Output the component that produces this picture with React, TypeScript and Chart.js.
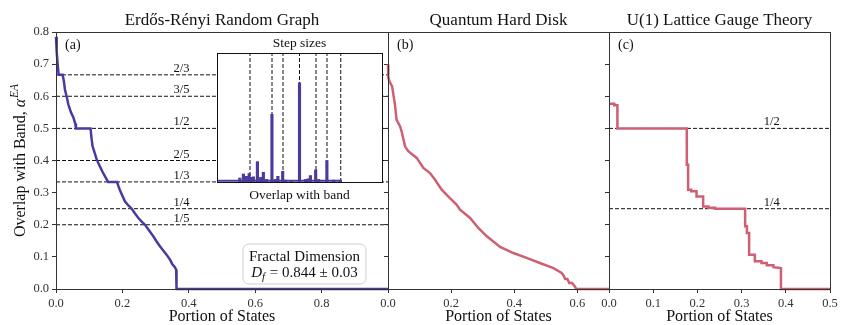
import React, { useEffect, useRef } from "react";
import { Chart, registerables } from "chart.js";
Chart.register(...registerables);

// ---------- data ----------
const titles = ["Erdős-Rényi Random Graph", "Quantum Hard Disk", "U(1) Lattice Gauge Theory"];
const tags = ["(a)", "(b)", "(c)"];
const xTitle = "Portion of States";
const yTitleMain = "Overlap with Band, ";
const yTitleSup = "EA";

// tick values
const yTicks = [0, 0.1, 0.2, 0.3, 0.4, 0.5, 0.6, 0.7, 0.8];
const aTicks = [0, 0.2, 0.4, 0.6, 0.8, 1.0];
const bTicks = [0, 0.2, 0.4, 0.6, 0.7];
const cTicks = [0, 0.1, 0.2, 0.3, 0.4, 0.5];

// panel (a): Erdős-Rényi
const aX = [0, 0.002, 0.005, 0.008, 0.020, 0.024, 0.027, 0.032, 0.037, 0.045, 0.052, 0.058, 0.060, 0.104, 0.107, 0.110, 0.116, 0.122, 0.127, 0.132, 0.140, 0.148, 0.157, 0.184, 0.188, 0.192, 0.200, 0.2075, 0.218, 0.228, 0.238, 0.248, 0.258, 0.268, 0.280, 0.293, 0.303, 0.313, 0.323, 0.333, 0.343, 0.350, 0.358, 0.362, 0.363, 1.0];
const aY = [0.785, 0.74, 0.70, 0.667, 0.667, 0.645, 0.62, 0.60, 0.575, 0.55, 0.535, 0.515, 0.5, 0.5, 0.47, 0.445, 0.425, 0.405, 0.393, 0.382, 0.365, 0.350, 0.333, 0.333, 0.32, 0.309, 0.29, 0.273, 0.26, 0.25, 0.235, 0.221, 0.21, 0.2, 0.183, 0.164, 0.148, 0.133, 0.12, 0.107, 0.092, 0.078, 0.068, 0.06, 0, 0];

// panel (b): Quantum Hard Disk
const bX = [0, 0.001, 0.004, 0.013, 0.022, 0.027, 0.038, 0.043, 0.054, 0.064, 0.091, 0.112, 0.133, 0.149, 0.170, 0.196, 0.217, 0.228, 0.260, 0.286, 0.313, 0.355, 0.397, 0.439, 0.481, 0.524, 0.550, 0.556, 0.561, 0.568, 0.574, 0.583, 0.592, 0.596, 0.70];
const bY = [0.699, 0.66, 0.647, 0.631, 0.574, 0.527, 0.507, 0.491, 0.444, 0.429, 0.408, 0.377, 0.361, 0.340, 0.309, 0.283, 0.263, 0.247, 0.221, 0.190, 0.164, 0.131, 0.112, 0.097, 0.081, 0.065, 0.050, 0.042, 0.031, 0.031, 0.019, 0.019, 0.008, 0, 0];

// panel (c): U(1) lattice gauge theory
const cX = [0, 0.012, 0.012, 0.019, 0.019, 0.176, 0.176, 0.179, 0.179, 0.186, 0.186, 0.198, 0.198, 0.213, 0.213, 0.225, 0.225, 0.240, 0.240, 0.308, 0.308, 0.312, 0.312, 0.317, 0.317, 0.330, 0.330, 0.345, 0.345, 0.357, 0.357, 0.372, 0.372, 0.389, 0.389, 0.5];
const cY = [0.577, 0.577, 0.572, 0.572, 0.5, 0.5, 0.387, 0.387, 0.309, 0.309, 0.304, 0.304, 0.288, 0.288, 0.257, 0.257, 0.253, 0.253, 0.25, 0.25, 0.195, 0.195, 0.174, 0.174, 0.107, 0.107, 0.086, 0.086, 0.081, 0.081, 0.074, 0.074, 0.068, 0.065, 0, 0];

// reference fractions
const fracA = [2 / 3, 3 / 5, 1 / 2, 2 / 5, 1 / 3, 1 / 4, 1 / 5];
const fracALabels = ["2/3", "3/5", "1/2", "2/5", "1/3", "1/4", "1/5"];
const fracC = [1 / 2, 1 / 4];
const fracCLabels = ["1/2", "1/4"];

// inset: step sizes vs overlap with band
const insetX = [0.138, 0.160, 0.178, 0.195, 0.205, 0.221, 0.245, 0.265, 0.281, 0.301, 0.333, 0.355, 0.369, 0.398, 0.416, 0.449, 0.5, 0.536, 0.552, 0.566, 0.598, 0.616, 0.666, 0.707, 0.747];
const insetH = [0.031, 0.062, 0.044, 0.066, 0.036, 0.04, 0.158, 0.036, 0.075, 0.02, 0.525, 0.02, 0.044, 0.083, 0.015, 0.012, 0.769, 0.02, 0.025, 0.05, 0.094, 0.02, 0.166, 0.015, 0.015];
const insetBaseX = [0.005, 0.755];
const insetBaseY = [0.01, 0.01];
const insetLines = [1 / 5, 1 / 3, 2 / 5, 1 / 2, 3 / 5, 2 / 3, 3 / 4];
const insetTitle = "Step sizes";
const insetXTitle = "Overlap with band";

const boxLine1 = "Fractal Dimension";
const boxValue = " = 0.844 ± 0.03";

// ---------- styles ----------
const FONT = "'Liberation Serif', 'DejaVu Serif', serif";
const PURPLE = "#4a3c9f";
const RED = "#cf5f73";
const AXIS = "#333";

function pts(xs: number[], ys: number[]) {
  return xs.map((v, i) => ({ x: v, y: ys[i] }));
}

type PanelSpec = {
  xs: number[];
  ys: number[];
  color: string;
  xMax: number;
  xTicks: number[];
  hideLast: boolean;
  showYLabels: boolean;
  yAxisWidth: number;
  padRight: number;
  fracs: number[];
  fracLabels: string[];
  fracLabelX: number;
  title: string;
  tag: string;
  drawYTitle: boolean;
  drawBox: boolean;
};

function makePanel(canvas: HTMLCanvasElement, s: PanelSpec) {
  const datasets: any[] = [
    {
      data: pts(s.xs, s.ys),
      borderColor: s.color,
      borderWidth: 2.5,
      pointRadius: 0,
      order: 0,
      clip: 4,
    },
    ...s.fracs.map((f) => ({
      data: [
        { x: 0, y: f },
        { x: s.xMax, y: f },
      ],
      borderColor: "#111",
      borderWidth: 1,
      borderDash: [4, 2],
      pointRadius: 0,
      order: 1,
    })),
  ];
  const textPlugin = {
    id: "panelText",
    afterDatasetsDraw(chart: any) {
      const { ctx, chartArea: ca, scales } = chart;
      ctx.save();
      // frame
      ctx.strokeStyle = AXIS;
      ctx.lineWidth = 1;
      ctx.strokeRect(ca.left + 0.5, ca.top + 0.5, ca.right - ca.left, ca.bottom - ca.top);
      ctx.fillStyle = "#111";
      // title
      ctx.font = `17px ${FONT}`;
      ctx.textAlign = "center";
      ctx.textBaseline = "alphabetic";
      ctx.fillText(s.title, (ca.left + ca.right) / 2, 25);
      // x title
      ctx.font = `16px ${FONT}`;
      ctx.fillText(xTitle, (ca.left + ca.right) / 2, 321);
      // tag
      ctx.font = `14px ${FONT}`;
      ctx.textAlign = "left";
      ctx.fillText(s.tag, ca.left + 9, 49);
      // fraction labels
      ctx.font = `12.5px ${FONT}`;
      ctx.textAlign = "center";
      s.fracs.forEach((f, i) => {
        const x = scales.x.getPixelForValue(s.fracLabelX);
        const y = scales.y.getPixelForValue(f);
        ctx.fillText(s.fracLabels[i], x, y - 3);
      });
      if (s.drawYTitle) {
        ctx.save();
        ctx.translate(25, (ca.top + ca.bottom) / 2);
        ctx.rotate(-Math.PI / 2);
        ctx.font = `16px ${FONT}`;
        const w1 = ctx.measureText(yTitleMain).width;
        ctx.font = `italic 16px ${FONT}`;
        const wa = ctx.measureText("α").width;
        ctx.font = `italic 11.5px ${FONT}`;
        const w2 = ctx.measureText(yTitleSup).width;
        const total = w1 + wa + w2 + 1;
        const x0 = -total / 2;
        ctx.textAlign = "left";
        ctx.font = `16px ${FONT}`;
        ctx.fillText(yTitleMain, x0, 0);
        ctx.font = `italic 16px ${FONT}`;
        ctx.fillText("α", x0 + w1, 0);
        ctx.font = `italic 11.5px ${FONT}`;
        ctx.fillText(yTitleSup, x0 + w1 + wa + 1, -7);
        ctx.restore();
      }
      if (s.drawBox) {
        const bx = 243, by = 244, bw = 123, bh = 40, r = 6;
        ctx.beginPath();
        ctx.moveTo(bx + r, by);
        ctx.arcTo(bx + bw, by, bx + bw, by + bh, r);
        ctx.arcTo(bx + bw, by + bh, bx, by + bh, r);
        ctx.arcTo(bx, by + bh, bx, by, r);
        ctx.arcTo(bx, by, bx + bw, by, r);
        ctx.closePath();
        ctx.fillStyle = "rgba(255,255,255,0.85)";
        ctx.fill();
        ctx.strokeStyle = "#cfcfcf";
        ctx.lineWidth = 1;
        ctx.stroke();
        ctx.fillStyle = "#111";
        const cx = bx + bw / 2;
        ctx.textAlign = "center";
        ctx.font = `15px ${FONT}`;
        ctx.fillText(boxLine1, cx, by + 17);
        ctx.font = `italic 15px ${FONT}`;
        const wd = ctx.measureText("D").width;
        ctx.font = `italic 11px ${FONT}`;
        const wf = ctx.measureText("f").width;
        ctx.font = `15px ${FONT}`;
        const wv = ctx.measureText(boxValue).width;
        const tot = wd + wf + 1 + wv;
        const x = cx - tot / 2;
        const yb = by + 33;
        ctx.textAlign = "left";
        ctx.font = `italic 15px ${FONT}`;
        ctx.fillText("D", x, yb);
        ctx.font = `italic 11px ${FONT}`;
        ctx.fillText("f", x + wd, yb + 3);
        ctx.font = `15px ${FONT}`;
        ctx.fillText(boxValue, x + wd + wf + 1, yb);
      }
      ctx.restore();
    },
  };
  return new Chart(canvas, {
    type: "line",
    data: { datasets },
    plugins: [textPlugin],
    options: {
      animation: false,
      responsive: false,
      devicePixelRatio: 1,
      layout: { padding: { left: 0, right: s.padRight, top: 32, bottom: 0 } },
      plugins: { legend: { display: false }, tooltip: { enabled: false } },
      elements: { line: { tension: 0 } },
      scales: {
        x: {
          type: "linear",
          min: 0,
          max: s.xMax,
          afterBuildTicks: (sc: any) => {
            sc.ticks = s.xTicks.map((v) => ({ value: v }));
          },
          afterFit: (sc: any) => {
            sc.height = 36;
          },
          border: { display: false },
          grid: { drawOnChartArea: false, drawTicks: true, tickLength: 4, color: AXIS, lineWidth: 1 },
          ticks: {
            autoSkip: false,
            maxRotation: 0,
            padding: 3,
            color: "#333",
            font: { family: FONT, size: 12.5 },
            callback: (v: any) => {
              const n = Number(v);
              if (s.hideLast && Math.abs(n - s.xMax) < 1e-6) return "";
              return n.toFixed(1);
            },
          },
        },
        y: {
          type: "linear",
          min: 0,
          max: 0.8,
          afterBuildTicks: (sc: any) => {
            sc.ticks = yTicks.map((v) => ({ value: v }));
          },
          afterFit: (sc: any) => {
            sc.width = s.yAxisWidth;
          },
          border: { display: false },
          grid: { drawOnChartArea: false, drawTicks: true, tickLength: 4, color: AXIS, lineWidth: 1 },
          ticks: {
            autoSkip: false,
            padding: 3,
            color: "#333",
            font: { family: FONT, size: 12.5 },
            callback: (v: any) => (s.showYLabels ? Number(v).toFixed(1) : ""),
          },
        },
      },
    },
  } as any);
}

function makeInset(canvas: HTMLCanvasElement) {
  const datasets: any[] = [
    {
      type: "bar",
      data: pts(insetX, insetH),
      backgroundColor: PURPLE,
      barThickness: 2.5,
      order: 0,
    },
    {
      type: "line",
      data: pts(insetBaseX, insetBaseY),
      borderColor: PURPLE,
      borderWidth: 2,
      pointRadius: 0,
      order: 1,
    },
    ...insetLines.map((v) => ({
      type: "line",
      data: [
        { x: v, y: 0 },
        { x: v, y: 1 },
      ],
      borderColor: "#111",
      borderWidth: 1,
      borderDash: [4, 2],
      pointRadius: 0,
      order: 2,
    })),
  ];
  const plugin = {
    id: "insetDeco",
    beforeDraw(chart: any) {
      const { ctx, chartArea: ca } = chart;
      ctx.save();
      ctx.fillStyle = "#fff";
      ctx.fillRect(ca.left, ca.top, ca.right - ca.left, ca.bottom - ca.top);
      ctx.restore();
    },
    afterDraw(chart: any) {
      const { ctx, chartArea: ca } = chart;
      ctx.save();
      ctx.strokeStyle = "#111";
      ctx.lineWidth = 1;
      ctx.strokeRect(ca.left + 0.5, ca.top + 0.5, ca.right - ca.left, ca.bottom - ca.top);
      ctx.fillStyle = "#111";
      ctx.font = `13.5px ${FONT}`;
      ctx.textAlign = "center";
      ctx.textBaseline = "middle";
      ctx.fillText(insetTitle, (ca.left + ca.right) / 2, ca.top - 10);
      ctx.fillText(insetXTitle, (ca.left + ca.right) / 2, ca.bottom + 13);
      ctx.restore();
    },
  };
  return new Chart(canvas, {
    type: "bar",
    data: { datasets },
    plugins: [plugin],
    options: {
      animation: false,
      responsive: false,
      devicePixelRatio: 1,
      layout: { padding: { left: 17, top: 23, right: 18, bottom: 28 } },
      plugins: { legend: { display: false }, tooltip: { enabled: false } },
      scales: {
        x: { type: "linear", min: 0, max: 1, offset: false, display: false },
        y: { type: "linear", min: 0, max: 1, display: false },
      },
    },
  } as any);
}

export default function App() {
  const ra = useRef<HTMLCanvasElement>(null);
  const rb = useRef<HTMLCanvasElement>(null);
  const rc = useRef<HTMLCanvasElement>(null);
  const ri = useRef<HTMLCanvasElement>(null);
  useEffect(() => {
    const charts: Chart[] = [];
    charts.push(
      makePanel(ra.current!, {
        xs: aX, ys: aY, color: PURPLE, xMax: 1, xTicks: aTicks, hideLast: true, showYLabels: true,
        yAxisWidth: 56, padRight: 12, fracs: fracA, fracLabels: fracALabels, fracLabelX: 0.378,
        title: titles[0], tag: tags[0], drawYTitle: true, drawBox: true,
      })
    );
    charts.push(makeInset(ri.current!));
    charts.push(
      makePanel(rb.current!, {
        xs: bX, ys: bY, color: RED, xMax: 0.7, xTicks: bTicks, hideLast: true, showYLabels: false,
        yAxisWidth: 12, padRight: 12, fracs: [], fracLabels: [], fracLabelX: 0,
        title: titles[1], tag: tags[1], drawYTitle: false, drawBox: false,
      })
    );
    charts.push(
      makePanel(rc.current!, {
        xs: cX, ys: cY, color: RED, xMax: 0.5, xTicks: cTicks, hideLast: false, showYLabels: false,
        yAxisWidth: 12, padRight: 13, fracs: fracC, fracLabels: fracCLabels, fracLabelX: 0.368,
        title: titles[2], tag: tags[2], drawYTitle: false, drawBox: false,
      })
    );
    return () => charts.forEach((c) => c.destroy());
  }, []);
  const abs = (left: number, top: number): React.CSSProperties => ({ position: "absolute", left, top });
  return (
    <div style={{ position: "absolute", left: 0, top: 0, width: 843, height: 325, background: "#fff", overflow: "hidden" }}>
      <canvas ref={ra} width={400} height={325} style={abs(0, 0)} />
      <canvas ref={ri} width={200} height={180} style={abs(200, 30)} />
      <canvas ref={rb} width={245} height={325} style={abs(376, 0)} />
      <canvas ref={rc} width={246} height={325} style={abs(597, 0)} />
    </div>
  );
}
